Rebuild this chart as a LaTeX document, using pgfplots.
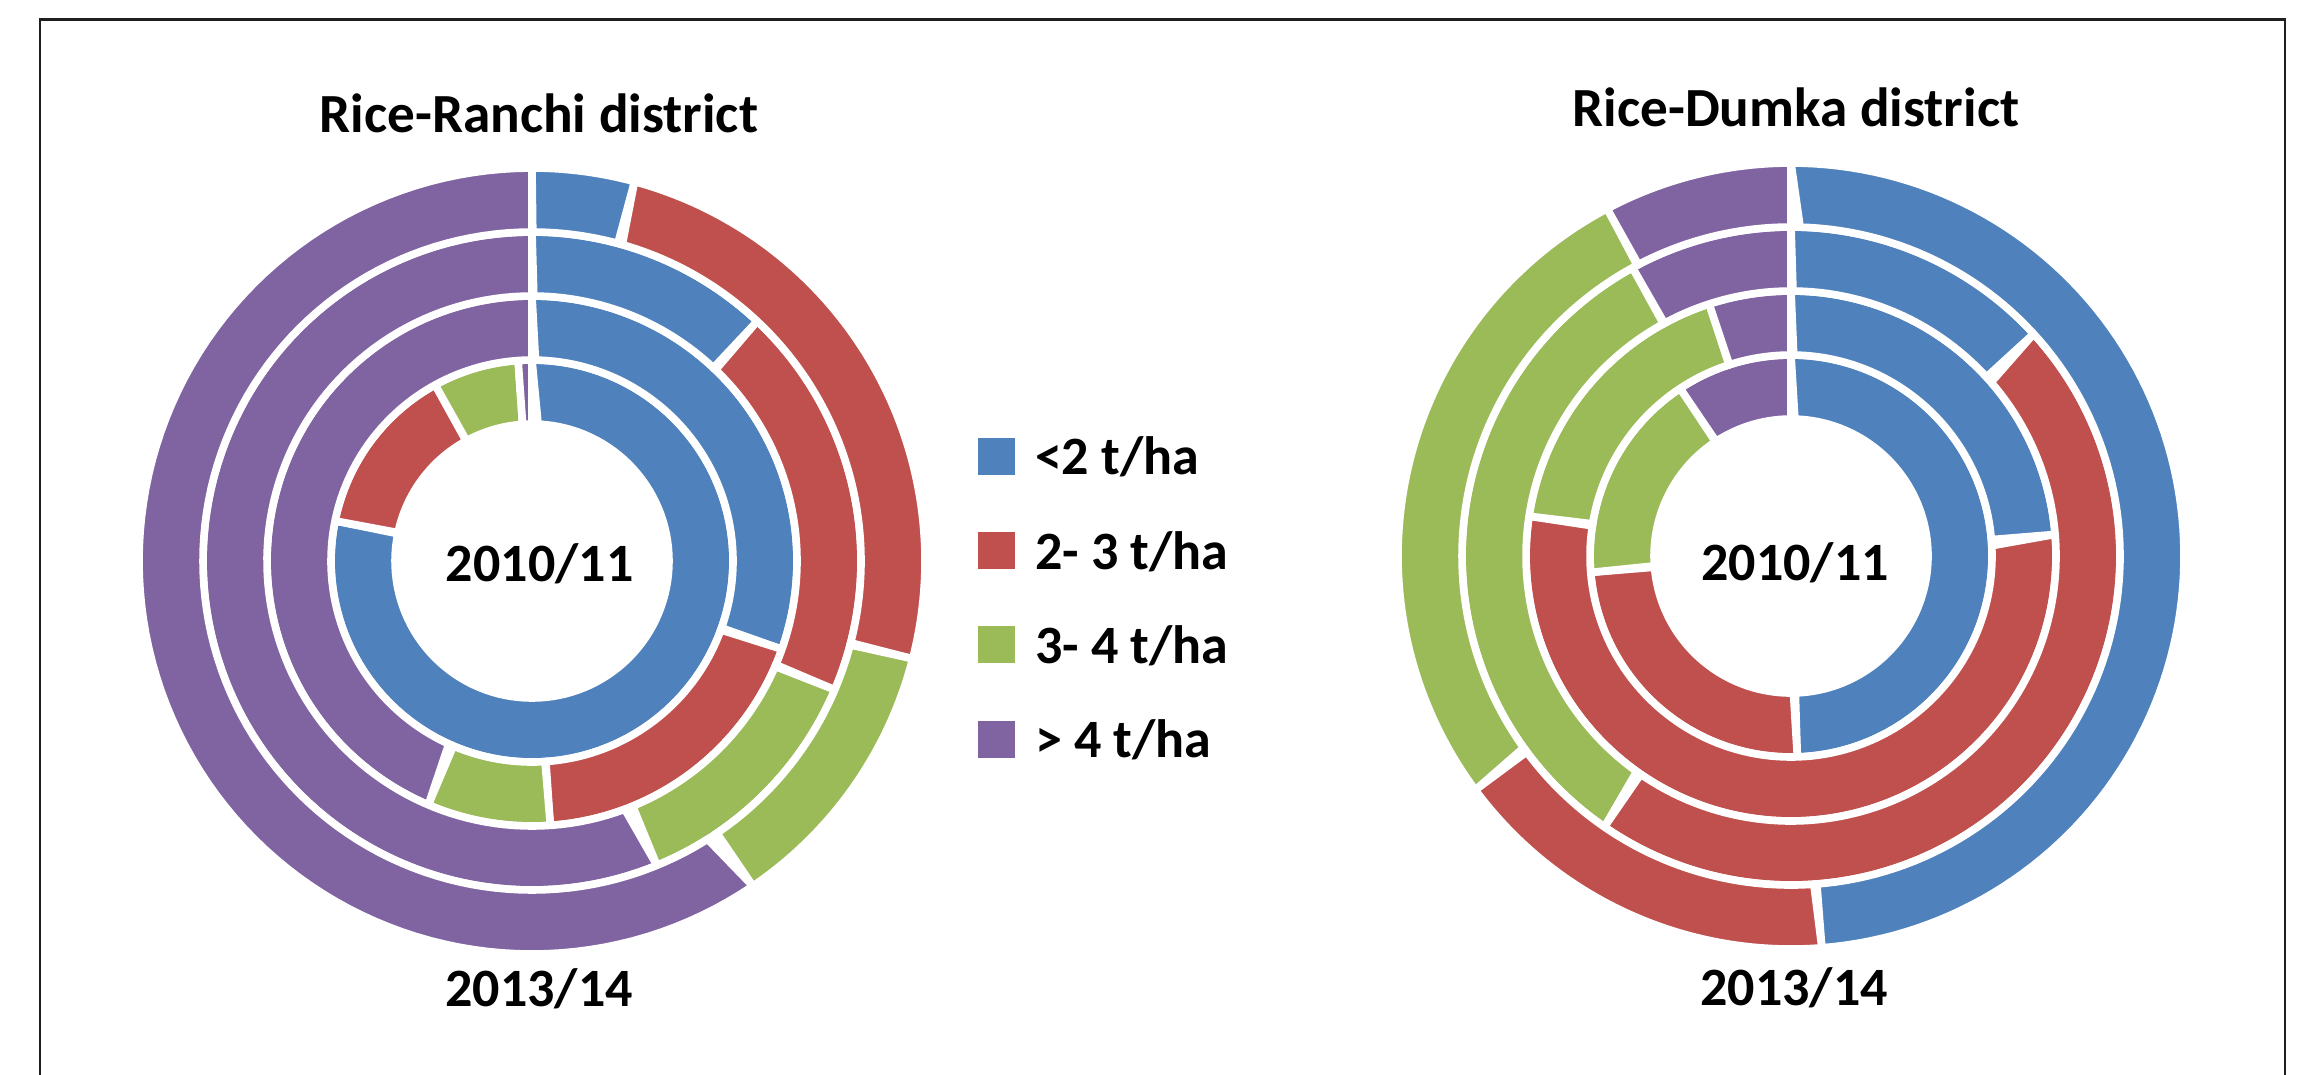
\documentclass[border=0pt]{standalone}
\usepackage{pgfplots}
\pgfplotsset{compat=1.18}
\usepackage{fontspec}
\setmainfont{Carlito}

\definecolor{cblue}{HTML}{4F81BD}
\definecolor{cred}{HTML}{C0504D}
\definecolor{cgreen}{HTML}{9BBB59}
\definecolor{cpurple}{HTML}{8064A2}

% one doughnut segment: #1 inner radius, #2 outer radius, #3 start angle, #4 end angle (clockwise from top), #5 colour
\newcommand\seg[5]{%
  \addplot[forget plot, fill=#5, draw=white, line width=1.9pt,
    samples at={0,0.01,...,0.99,1,1.00001,1.01,1.02,...,2}]
   ({((x<=1)*#2+(x>1)*#1)*sin((x<=1)*(#3+(#4-#3)*x)+(x>1)*(#4-(#4-#3)*(x-1)))},
    {((x<=1)*#2+(x>1)*#1)*cos((x<=1)*(#3+(#4-#3)*x)+(x>1)*(#4-(#4-#3)*(x-1)))}) -- cycle;
}
% one ring: #1 inner radius, #2 outer radius, #3..#6 shares in percent (<2, 2-3, 3-4, >4 t/ha)
\newcommand\ring[6]{%
  \pgfmathsetmacro\ringA{3.6*(#3)}%
  \pgfmathsetmacro\ringB{3.6*(#3+#4)}%
  \pgfmathsetmacro\ringC{3.6*(#3+#4+#5)}%
  \pgfmathsetmacro\ringD{3.6*(#3+#4+#5+#6)}%
  \edef\next{\noexpand\seg{#1}{#2}{0}{\ringA}{cblue}%
    \noexpand\seg{#1}{#2}{\ringA}{\ringB}{cred}%
    \noexpand\seg{#1}{#2}{\ringB}{\ringC}{cgreen}%
    \noexpand\seg{#1}{#2}{\ringC}{\ringD}{cpurple}}%
  \next}

\pgfplotsset{donut/.style={
  scale only axis, width=200pt, height=200pt,
  xmin=-400, xmax=400, ymin=-400, ymax=400,
  hide axis, clip=false, anchor=center}}

\begin{document}
\begin{tikzpicture}
\useasboundingbox (0pt,0pt) rectangle (577pt,-268.5pt);
\draw[line width=0.6pt, color=black!88] (10pt,-275pt) -- (10pt,-4.9pt) -- (571.2pt,-4.9pt) -- (571.2pt,-275pt);

% Ranchi
\begin{axis}[donut, at={(133pt,-140.25pt)},
  legend image code/.code={\fill[#1] (0pt,-3.95pt) rectangle (9.25pt,5.3pt);},
  legend cell align=left,
  legend style={draw=none, fill=none, at={(axis description cs:1.0575,0.655)}, anchor=north west,
    inner sep=0pt, outer sep=0pt, row sep=12.6pt,
    font=\bfseries\fontsize{13.5}{16}\selectfont,
    nodes={inner sep=0pt, outer sep=0pt},
    /tikz/every odd column/.append style={column sep=5pt}}]
\ring{137}{201}{78.2}{13.8}{6.9}{1.1}
\ring{201}{265}{30.4}{18.5}{7.5}{43.6}
\ring{265}{329}{12.0}{19.4}{12.4}{56.2}
\ring{329}{393}{4.2}{24.8}{11.5}{59.5}
\addlegendimage{fill=cblue, draw=none}
\addlegendentry{<2 t/ha}
\addlegendimage{fill=cred, draw=none}
\addlegendentry{2- 3 t/ha}
\addlegendimage{fill=cgreen, draw=none}
\addlegendentry{3- 4 t/ha}
\addlegendimage{fill=cpurple, draw=none}
\addlegendentry{> 4 t/ha}
\end{axis}

% Dumka
\begin{axis}[donut, at={(447.75pt,-139pt)}]
\ring{137}{201}{49.5}{24.2}{17.0}{9.3}
\ring{201}{265}{23.7}{53.7}{17.6}{5.0}
\ring{265}{329}{13.2}{46.4}{32.4}{8.0}
\ring{329}{393}{48.75}{16.1}{27.4}{7.75}
\end{axis}

\node[anchor=base, font=\bfseries\fontsize{13.8}{16}\selectfont, inner sep=0pt] at (134.75pt,-33.2pt) {Rice-Ranchi district};
\node[anchor=base, font=\bfseries\fontsize{13.8}{16}\selectfont, inner sep=0pt] at (449pt,-31.65pt) {Rice-Dumka district};
\node[anchor=base, font=\bfseries\fontsize{13.5}{16}\selectfont, inner sep=0pt] at (134.9pt,-145.4pt) {2010/11};
\node[anchor=base, font=\bfseries\fontsize{13.5}{16}\selectfont, inner sep=0pt] at (134.75pt,-251.7pt) {2013/14};
\node[anchor=base, font=\bfseries\fontsize{13.5}{16}\selectfont, inner sep=0pt] at (448.75pt,-145pt) {2010/11};
\node[anchor=base, font=\bfseries\fontsize{13.5}{16}\selectfont, inner sep=0pt] at (448.5pt,-251.4pt) {2013/14};
\end{tikzpicture}
\end{document}
